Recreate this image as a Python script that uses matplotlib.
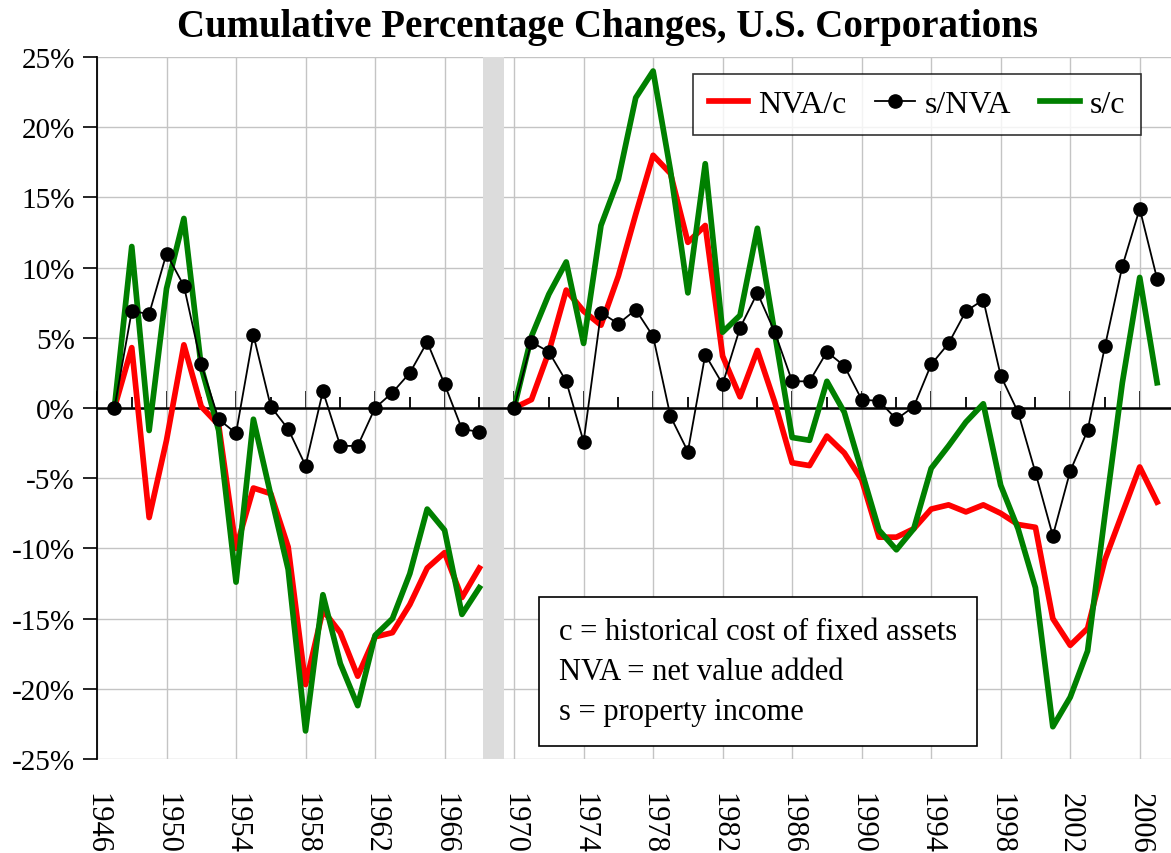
import matplotlib
matplotlib.use('Agg')
import matplotlib.pyplot as plt
import matplotlib.ticker as ticker

plt.rcParams['font.family'] = ['Liberation Serif', 'DejaVu Serif']
plt.rcParams['axes.unicode_minus'] = False

# first period (1947-1968), values in %
years_a = list(range(1947, 1969))
nva_c_a = [0, 4.3, -7.8, -2.3, 4.5, 0.1, -1.2, -10.0, -5.7, -6.1, -9.9, -19.7,
           -14.4, -16.0, -19.1, -16.3, -16.0, -14.0, -11.4, -10.3, -13.5, -11.4]
s_nva_a = [0, 6.9, 6.7, 11.0, 8.7, 3.1, -0.8, -1.8, 5.2, 0.1, -1.5, -4.1,
           1.2, -2.7, -2.7, 0.0, 1.1, 2.5, 4.7, 1.7, -1.5, -1.7]
s_c_a = [0, 11.5, -1.6, 8.5, 13.5, 2.9, -1.6, -12.4, -0.8, -6.2, -11.5, -23.0,
         -13.3, -18.2, -21.2, -16.2, -15.0, -11.8, -7.2, -8.7, -14.7, -12.8]

# second period (1970-2007)
years_b = list(range(1970, 2008))
nva_c_b = [0, 0.6, 4.0, 8.4, 6.9, 5.9, 9.4, 13.8, 18.0, 16.7, 11.8, 13.0,
           3.7, 0.8, 4.1, 0.4, -3.9, -4.1, -2.0, -3.2, -5.1, -9.2, -9.2, -8.6,
           -7.2, -6.9, -7.4, -6.9, -7.5, -8.3, -8.5, -15.0, -16.9, -15.7,
           -10.8, -7.5, -4.2, -6.7]
s_nva_b = [0, 4.7, 4.0, 1.9, -2.4, 6.8, 6.0, 7.0, 5.1, -0.6, -3.1, 3.8,
           1.7, 5.7, 8.2, 5.4, 1.9, 1.9, 4.0, 3.0, 0.6, 0.5, -0.8, 0.1,
           3.1, 4.6, 6.9, 7.7, 2.3, -0.3, -4.6, -9.1, -4.5, -1.6,
           4.4, 10.1, 14.2, 9.2]
s_c_b = [0, 5.1, 8.1, 10.4, 4.6, 13.0, 16.3, 22.1, 24.0, 16.9, 8.2, 17.4,
         5.4, 6.6, 12.8, 5.3, -2.1, -2.3, 1.9, -0.3, -4.5, -8.7, -10.1, -8.6,
         -4.3, -2.7, -1.0, 0.3, -5.5, -8.6, -12.8, -22.7, -20.6, -17.3,
         -7.6, 1.8, 9.3, 1.8]

xticks = list(range(1946, 2008, 4))

fig = plt.figure(figsize=(11.71, 8.54), dpi=100)
ax = fig.add_axes([97/1171, 94/854, 1 - 97/1171, 702/854])

ax.axvspan(1968.2, 1969.4, color='#dcdcdc', lw=0, zorder=1)
ax.axhline(0, color='black', lw=1.8, zorder=2)

red, black, green = '#ff0000', 'black', '#008000'
for k, (yr, nc, sn, sc) in enumerate([(years_a, nva_c_a, s_nva_a, s_c_a),
                                       (years_b, nva_c_b, s_nva_b, s_c_b)]):
    ax.plot(yr, nc, color=red, lw=4.1, zorder=3,
            label='NVA/c' if k == 0 else None)
    ax.plot(yr, sn, color=black, lw=1.3, marker='o', ms=9.5, zorder=5,
            label='s/NVA' if k == 0 else None)
    ax.plot(yr, sc, color=green, lw=4.1, zorder=4,
            label='s/c' if k == 0 else None)

ax.set_xlim(1946, 2007.8)
ax.set_ylim(-25, 25)
ax.set_xticks(xticks)
ax.set_xticklabels([str(t) for t in xticks], rotation=270, fontsize=22)
ax.tick_params(axis='x', length=0, pad=24)
ax.yaxis.set_major_locator(ticker.MultipleLocator(5))
ax.yaxis.set_major_formatter(ticker.FuncFormatter(lambda v, p: '{:.0f}%'.format(v)))
ax.tick_params(axis='y', labelsize=21, length=10, width=1.2, pad=6)

for s in ['top', 'right', 'bottom']:
    ax.spines[s].set_visible(False)
ax.spines['left'].set_linewidth(1.3)
ax.grid(True, color='#c4c4c4', lw=1.0, zorder=0)
ax.set_axisbelow(True)

# year ticks hanging from the zero line
zax = ax.secondary_xaxis(0.5)
zax.set_xticks(xticks)
zax.set_xticklabels([])
zax.xaxis.set_minor_locator(ticker.MultipleLocator(2))
zax.tick_params(which='major', direction='out', length=12, width=1.3)
zax.tick_params(which='minor', direction='out', length=8, width=1.3)
zax.spines['bottom'].set_visible(False)

leg = ax.legend(loc='upper right', bbox_to_anchor=(0.972, 0.976), ncol=3,
                fontsize=23, frameon=True, fancybox=False, edgecolor='black',
                handlelength=1.25, handletextpad=0.3, columnspacing=0.9,
                borderpad=0.5, borderaxespad=0)
leg.get_frame().set_linewidth(1.2)

ax.text(0.43, 0.125,
        'c = historical cost of fixed assets\nNVA = net value added\ns = property income',
        transform=ax.transAxes, fontsize=22, va='center', ha='left', linespacing=1.5,
        bbox=dict(boxstyle='square,pad=0.65', fc='white', ec='black', lw=1.2),
        zorder=6)

fig.suptitle('Cumulative Percentage Changes, U.S. Corporations',
             fontsize=28, fontweight='bold', y=0.99, x=0.519)

fig.savefig('out.png', dpi=100)
